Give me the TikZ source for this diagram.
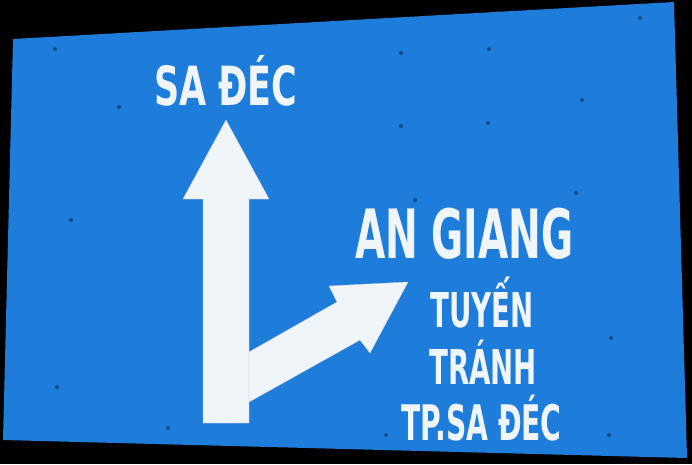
\documentclass[tikz,border=0pt]{standalone}
\usepackage{fontspec}
\usepackage{tikz}
\newfontfamily\signfont{DejaVu Sans Condensed}[FakeStretch=0.64]
\newfontfamily\signfontwide{DejaVu Sans Condensed}[FakeStretch=0.72]
\definecolor{signblue}{RGB}{30,124,218}
\definecolor{signwhite}{RGB}{240,245,250}
\tikzset{
	signtext/.style={text=signwhite,inner sep=0pt,anchor=base west},
	arrowpart/.style={fill=signwhite,draw=signwhite!85!black,line width=.4pt,line join=miter},
	rivet/.style={fill=black,opacity=.4}
}

\begin{document}
\begin{tikzpicture}[x=1pt,y=-1pt]
			\useasboundingbox (0,0) rectangle (692,464);
			\fill[black] (0,0) rectangle (692,464);
			\fill[signblue] (13,39) -- (674,2) -- (687,458) -- (3,440) -- cycle;
			
			% rivets
			\foreach \p in {(55,49),(401,53),(489,49),(640,18),(582,100),(611,338),(488,123),(401,126),(119,107),(71,220),(415,200),(576,193),(57,387),(168,428),(609,435),(386,435)}
				\fill[rivet] \p circle (2);
			
			% straight on
			\draw[arrowpart] (226,120) -- (269,199) -- (249,199) -- (249,423) -- (203,423) -- (203,199) -- (183,199) -- cycle;
			% to the right
			\draw[arrowpart] (249,352) -- (337,302) -- (329,286) -- (408,282) -- (370,353) -- (360,340) -- (249,402) -- cycle;
			
			\node[signtext,font=\signfontwide\bfseries\fontsize{54}{54}\selectfont] (sadec)at(154,105) {SA ĐÉC};
			\node[signtext,font=\signfont\bfseries\fontsize{68}{68}\selectfont] (angiang)at(355,258) {AN GIANG};
			\node[signtext,font=\signfont\bfseries\fontsize{48}{48}\selectfont] (tuyen)at(430,327) {TUYẾN};
			\node[signtext,font=\signfont\bfseries\fontsize{48}{48}\selectfont] (tranh)at(429,384) {TRÁNH};
			\node[signtext,font=\signfont\bfseries\fontsize{49}{49}\selectfont] (tpsadec)at(401,440) {TP.SA ĐÉC};
		\end{tikzpicture}
\end{document}
